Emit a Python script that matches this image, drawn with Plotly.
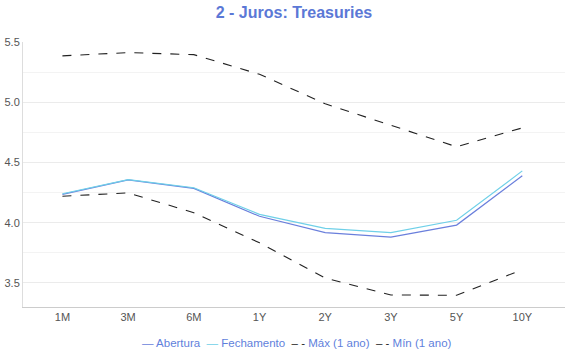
import plotly.graph_objects as go

categories = ["1M", "3M", "6M", "1Y", "2Y", "3Y", "5Y", "10Y"]
abertura = [4.235, 4.355, 4.285, 4.053, 3.917, 3.88, 3.98, 4.39]
fechamento = [4.24, 4.358, 4.29, 4.069, 3.953, 3.917, 4.02, 4.43]
maximo = [5.385, 5.412, 5.395, 5.232, 4.987, 4.806, 4.63, 4.787]
minimo = [4.22, 4.247, 4.083, 3.833, 3.54, 3.40, 3.397, 3.61]
y_ticks = [3.5, 4.0, 4.5, 5.0, 5.5]
legend_names = ["Abertura", "Fechamento", "Máx (1 ano)", "Mín (1 ano)"]

c_ab = "#6a7fdc"
c_fe = "#6fd0e8"
c_dash = "#222222"
txt_blue = "#5f7fdc"

fig = go.Figure()
fig.add_trace(go.Scatter(x=categories, y=abertura, name=legend_names[0], mode="lines",
                         line=dict(color=c_ab, width=1.2)))
fig.add_trace(go.Scatter(x=categories, y=fechamento, name=legend_names[1], mode="lines",
                         line=dict(color=c_fe, width=1.2)))
fig.add_trace(go.Scatter(x=categories, y=maximo, name=legend_names[2], mode="lines",
                         line=dict(color=c_dash, width=1.1, dash="dash")))
fig.add_trace(go.Scatter(x=categories, y=minimo, name=legend_names[3], mode="lines",
                         line=dict(color=c_dash, width=1.1, dash="dash")))

sym = [f"<span style='color:{c_ab}'>—</span>",
       f"<span style='color:{c_fe}'>—</span>",
       f"<span style='color:{c_dash}'>– -</span>",
       f"<span style='color:{c_dash}'>– -</span>"]
legend_text = "  ".join(f"{s} {n}" for s, n in zip(sym, legend_names))

fig.update_layout(
    width=570, height=360,
    margin=dict(l=23, r=5, t=42, b=53, autoexpand=False),
    paper_bgcolor="white", plot_bgcolor="white",
    font=dict(family="Liberation Sans, Arial, sans-serif", size=11, color="#666"),
    title=dict(text="<b>2 - Juros: Treasuries</b>", x=0.5, xref="paper", xanchor="center",
               y=1 - 12 / 360, yref="container", yanchor="middle",
               font=dict(size=16, color="#5b78d6")),
    showlegend=False,
    annotations=[dict(text=legend_text, x=0.505, xref="paper", xanchor="center",
                      y=-0.135, yref="paper", yanchor="middle", showarrow=False,
                      font=dict(size=11.5, color=txt_blue))],
    xaxis=dict(range=[-0.6, 7.65], showgrid=False, showline=True, linecolor="#ccc",
               ticks="", tickfont=dict(size=11, color="#555"), zeroline=False,
               automargin=False),
    yaxis=dict(range=[3.3, 5.5], tickvals=y_ticks, ticktext=[f"{v:.1f}" for v in y_ticks],
               showgrid=True, gridcolor="#ebebeb", showline=True, linecolor="#ddd",
               ticks="", tickfont=dict(size=11, color="#555"), zeroline=False,
               automargin=False,
               minor=dict(dtick=0.25, showgrid=True, gridcolor="#f3f3f3")),
)
fig.write_html("out.html", config={"displayModeBar": False},
               post_script="document.body.style.margin='0';document.body.style.overflow='hidden';")
